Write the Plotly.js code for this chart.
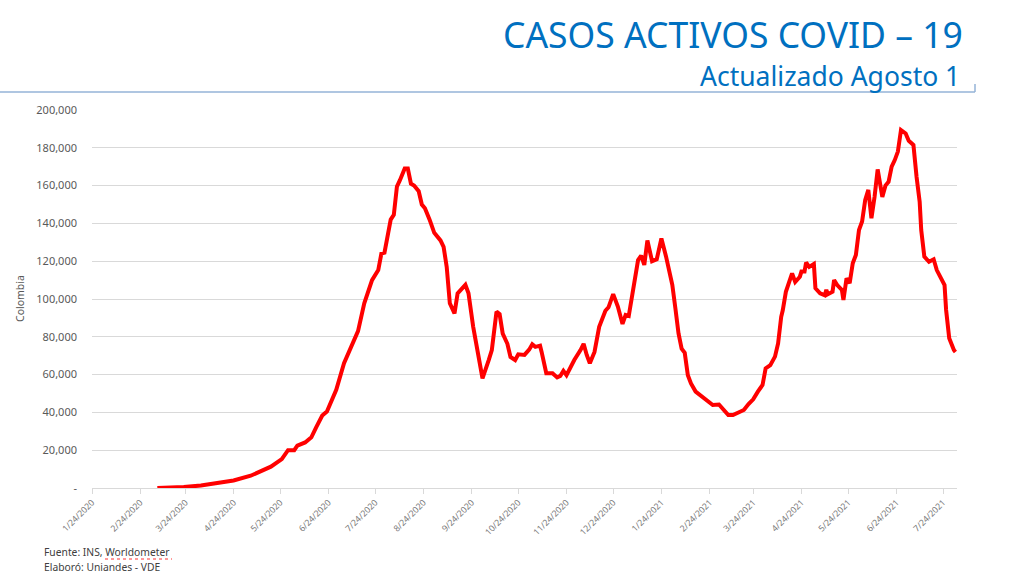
<!DOCTYPE html>
<html>
<head>
<meta charset="utf-8">
<script src="https://cdn.plot.ly/plotly-3.0.1.min.js"></script>
<style>
html,body{margin:0;padding:0;background:#fff;}
#chart{width:1024px;height:576px;}
</style>
</head>
<body>
<div id="chart"></div>
<script>
const dates = [
"2020-03-06","2020-03-15","2020-03-23","2020-04-03","2020-04-13","2020-04-24","2020-05-05","2020-05-11","2020-05-18","2020-05-25",
"2020-05-29","2020-06-02","2020-06-04","2020-06-09","2020-06-13","2020-06-16","2020-06-20","2020-06-23","2020-06-29","2020-07-04",
"2020-07-10","2020-07-13","2020-07-17","2020-07-22","2020-07-26","2020-07-28","2020-07-30","2020-08-03","2020-08-05","2020-08-07",
"2020-08-09","2020-08-12","2020-08-14","2020-08-16","2020-08-18","2020-08-21","2020-08-23","2020-08-25","2020-08-28","2020-08-31",
"2020-09-04","2020-09-06","2020-09-08","2020-09-10","2020-09-13","2020-09-15","2020-09-20","2020-09-22","2020-09-25","2020-09-28",
"2020-10-01","2020-10-05","2020-10-07","2020-10-10","2020-10-12","2020-10-14","2020-10-17","2020-10-19","2020-10-22","2020-10-24",
"2020-10-28","2020-10-31","2020-11-02","2020-11-04","2020-11-07","2020-11-08","2020-11-11","2020-11-15","2020-11-18","2020-11-20",
"2020-11-22","2020-11-24","2020-11-27","2020-11-29","2020-12-03","2020-12-05","2020-12-07","2020-12-09","2020-12-12","2020-12-15",
"2020-12-19","2020-12-21","2020-12-24","2020-12-27","2020-12-30","2021-01-01","2021-01-03","2021-01-07","2021-01-09","2021-01-11",
"2021-01-13","2021-01-15","2021-01-18","2021-01-21","2021-01-24","2021-01-27","2021-01-31","2021-02-02","2021-02-04","2021-02-06",
"2021-02-08","2021-02-10","2021-02-12","2021-02-15","2021-02-19","2021-02-23","2021-02-26","2021-03-02","2021-03-05","2021-03-08",
"2021-03-11","2021-03-14","2021-03-18","2021-03-21","2021-03-24","2021-03-27","2021-03-30","2021-04-01","2021-04-04","2021-04-07",
"2021-04-09","2021-04-11","2021-04-12","2021-04-14","2021-04-17","2021-04-18","2021-04-20","2021-04-23","2021-04-24","2021-04-26",
"2021-04-27","2021-04-29","2021-05-02","2021-05-03","2021-05-06","2021-05-09","2021-05-10","2021-05-11","2021-05-14","2021-05-15",
"2021-05-17","2021-05-20","2021-05-21","2021-05-23","2021-05-25","2021-05-27","2021-05-29","2021-05-31","2021-06-02","2021-06-04",
"2021-06-06","2021-06-08","2021-06-10","2021-06-12","2021-06-15","2021-06-17","2021-06-19","2021-06-21","2021-06-23","2021-06-25",
"2021-06-27","2021-06-30","2021-07-02","2021-07-05","2021-07-07","2021-07-09","2021-07-10","2021-07-12","2021-07-15","2021-07-18",
"2021-07-20","2021-07-22","2021-07-25","2021-07-26","2021-07-28","2021-07-31","2021-08-01"
];
const activeCases = [
1,150,500,1300,2500,4000,6500,8800,11300,15300,
20000,20000,22400,24100,26800,32000,38300,40500,52000,66000,
77000,83000,97700,110000,115300,124000,124500,142000,144500,159500,
163000,169000,169000,161000,160000,157000,150000,148000,142000,135000,
131000,127600,117000,97700,92400,103000,107500,103000,85400,71300,
58000,67700,73000,93300,92000,81700,76300,69300,67700,70700,
70400,73200,76000,74700,75300,72000,60700,60700,58500,59300,
62000,59700,65000,67700,73000,76300,70400,66000,72000,85300,
93800,95600,102600,96000,86800,91500,91000,112700,120600,123000,
118000,131000,120000,121000,132000,122400,107500,95000,81800,73700,
71500,59700,55300,51000,48300,45700,43900,44200,41300,38600,
38600,39800,41300,44400,46900,51000,54500,63300,65000,69500,
76500,90600,94000,103800,110900,113600,109000,111800,114500,114500,
119300,117000,118500,105700,103000,102000,104800,102500,103800,110000,
107400,104800,99500,111000,108300,118900,123300,136500,141000,152400,
157700,142700,154000,168600,154000,160000,162000,170000,173500,178000,
189400,187600,183700,181500,164700,151500,136500,122400,119700,121000,
115300,112200,107400,94200,79200,73000,72000
];
const tickDates = ["2020-01-24","2020-02-24","2020-03-24","2020-04-24","2020-05-24","2020-06-24","2020-07-24","2020-08-24","2020-09-24","2020-10-24","2020-11-24","2020-12-24","2021-01-24","2021-02-24","2021-03-24","2021-04-24","2021-05-24","2021-06-24","2021-07-24"];
const tickLabels = ["1/24/2020","2/24/2020","3/24/2020","4/24/2020","5/24/2020","6/24/2020","7/24/2020","8/24/2020","9/24/2020","10/24/2020","11/24/2020","12/24/2020","1/24/2021","2/24/2021","3/24/2021","4/24/2021","5/24/2021","6/24/2021","7/24/2021"];
const yTicks = [0,20000,40000,60000,80000,100000,120000,140000,160000,180000,200000];
const yTickLabels = ["-","20,000","40,000","60,000","80,000","100,000","120,000","140,000","160,000","180,000","200,000"];
const titleText = "CASOS ACTIVOS COVID – 19";
const subtitleText = "Actualizado Agosto 1";
const yTitle = "Colombia";
const footer1 = "Fuente: INS, Worldometer";
const footer2 = "Elaboró: Uniandes - VDE";

const L = 92, R = 957, T = 110, B = 488;
const W = R - L, H = B - T;
const px = x => (x - L) / W;
const py = y => (B - y) / H;

const trace = {
  x: dates, y: activeCases, type: 'scatter', mode: 'lines',
  line: {color: '#FF0000', width: 4}, hoverinfo: 'skip'
};

const layout = {
  width: 1024, height: 576,
  margin: {l: L, r: 1024 - R, t: T, b: 576 - B, pad: 0},
  paper_bgcolor: '#ffffff', plot_bgcolor: '#ffffff',
  showlegend: false,
  font: {family: 'Noto Sans, sans-serif', color: '#595959'},
  xaxis: {
    type: 'date', range: ['2020-01-24', '2021-08-02'],
    tickmode: 'array', tickvals: tickDates, ticktext: tickLabels,
    tickangle: -45, tickfont: {size: 8.7, color: '#7a7a7a'},
    showgrid: false, zeroline: false,
    showline: true, linecolor: '#d9d9d9', linewidth: 1,
    ticks: 'outside', ticklen: 5, tickcolor: '#d9d9d9'
  },
  yaxis: {
    range: [0, 200000], tickmode: 'array', tickvals: yTicks, ticktext: yTickLabels,
    tickfont: {size: 11, color: '#595959'},
    showgrid: true, gridcolor: '#d9d9d9', gridwidth: 1,
    zeroline: false, showline: false, ticks: '', ticklabelstandoff: 14
  },
  annotations: [
    {text: titleText, xref: 'paper', yref: 'paper', x: px(964), y: py(34), xanchor: 'right', yanchor: 'middle', showarrow: false,
     borderpad: 0,
     font: {family: 'Noto Sans, sans-serif', size: 35.5, color: '#0070C0'}},
    {text: subtitleText, xref: 'paper', yref: 'paper', x: px(961), y: py(76.2), xanchor: 'right', yanchor: 'middle', showarrow: false,
     borderpad: 0,
     font: {family: 'Noto Sans, sans-serif', size: 26.5, color: '#0070C0'}},
    {text: yTitle, xref: 'paper', yref: 'paper', x: px(20), y: 0.5, xanchor: 'center', yanchor: 'middle', textangle: -90, showarrow: false,
     font: {family: 'Noto Sans, sans-serif', size: 10.5, color: '#595959'}},
    {text: footer1, xref: 'paper', yref: 'paper', x: px(42), y: py(552), xanchor: 'left', yanchor: 'middle', showarrow: false,
     font: {family: 'Noto Sans, sans-serif', size: 10.3, color: '#404040'}},
    {text: footer2, xref: 'paper', yref: 'paper', x: px(42), y: py(567), xanchor: 'left', yanchor: 'middle', showarrow: false,
     font: {family: 'Noto Sans, sans-serif', size: 10.3, color: '#404040'}}
  ],
  shapes: [
    {type: 'line', xref: 'paper', yref: 'paper', x0: px(0), x1: px(975), y0: py(92), y1: py(92), line: {color: '#95B3D7', width: 1.5}},
    {type: 'line', xref: 'paper', yref: 'paper', x0: px(975), x1: px(975), y0: py(92), y1: py(84), line: {color: '#95B3D7', width: 1.5}},
    {type: 'line', xref: 'paper', yref: 'paper', x0: px(105), x1: px(172), y0: py(559), y1: py(559), line: {color: '#FF3333', width: 1, dash: 'dot'}}
  ]
};

Plotly.newPlot('chart', [trace], layout, {staticPlot: true, displayModeBar: false});
</script>
</body>
</html>
